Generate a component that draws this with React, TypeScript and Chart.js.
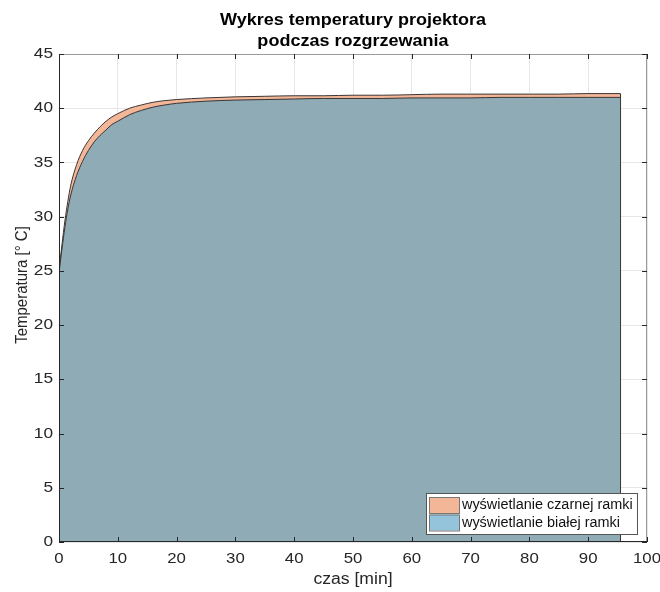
import React, { useEffect, useRef } from "react";
import { Chart, registerables } from "chart.js";

Chart.register(...registerables);

const titleLines = ["Wykres temperatury projektora", "podczas rozgrzewania"];
const xAxisLabel = "czas [min]";
const yAxisLabel = "Temperatura [° C]";
const seriesLabels = ["wyświetlanie czarnej ramki", "wyświetlanie białej ramki"];

const timeMin = [0, 0.5, 1, 1.5, 2, 3, 4, 5, 6, 7, 8, 9, 10, 12, 14, 16, 18, 20, 25, 30, 35, 40, 45, 50, 55, 60, 65, 70, 75, 80, 85, 90, 95.5];
const czarnaRamka = [25.0, 27.4, 29.6, 31.4, 32.9, 34.8, 36.1, 37.0, 37.7, 38.3, 38.8, 39.2, 39.5, 40.0, 40.3, 40.55, 40.7, 40.8, 40.95, 41.05, 41.1, 41.15, 41.15, 41.2, 41.2, 41.25, 41.3, 41.3, 41.3, 41.3, 41.3, 41.35, 41.35];
const bialaRamka = [24.8, 27.0, 29.0, 30.7, 32.0, 33.8, 35.1, 36.1, 36.9, 37.5, 38.0, 38.5, 38.8, 39.4, 39.8, 40.1, 40.3, 40.45, 40.65, 40.75, 40.8, 40.85, 40.9, 40.9, 40.9, 40.95, 40.95, 40.95, 41.0, 41.0, 41.0, 41.0, 41.0];

const xTicks = [0, 10, 20, 30, 40, 50, 60, 70, 80, 90, 100];
const yTicks = [0, 5, 10, 15, 20, 25, 30, 35, 40, 45];

const FONT = "'Liberation Sans', Arial, Helvetica, sans-serif";
const ORANGE = "#F3B798";
const BLUE_SWATCH = "#93C4DB";
const OVERLAP = "#8FABB6";
const EDGE = "#3a3535";
const AXIS = "#262626";

function stretchText(ctx: CanvasRenderingContext2D, text: string, x: number, y: number, sx: number) {
  ctx.save();
  ctx.translate(x, y);
  ctx.scale(sx, 1);
  ctx.fillText(text, 0, 0);
  ctx.restore();
}

const decor = {
  id: "decor",
  afterDatasetsDraw(chart: any) {
    const { ctx, chartArea: a, scales } = chart;
    const xs = scales.x;
    const ys = scales.y;
    ctx.save();
    const lastI = timeMin.length - 1;
    const xe = xs.getPixelForValue(timeMin[lastI]);
    ctx.strokeStyle = EDGE;
    ctx.lineWidth = 1;
    ctx.beginPath();
    ctx.moveTo(xe, ys.getPixelForValue(czarnaRamka[lastI]));
    ctx.lineTo(xe, ys.getPixelForValue(0));
    ctx.stroke();

    ctx.strokeStyle = "#9a9a9a";
    ctx.beginPath();
    ctx.moveTo(a.left, a.top + 0.5);
    ctx.lineTo(a.right - 0.5, a.top + 0.5);
    ctx.lineTo(a.right - 0.5, a.bottom);
    ctx.stroke();
    ctx.strokeStyle = AXIS;
    ctx.beginPath();
    ctx.moveTo(a.left + 0.5, a.top);
    ctx.lineTo(a.left + 0.5, a.bottom - 0.5);
    ctx.lineTo(a.right, a.bottom - 0.5);
    ctx.stroke();

    const tl = 5;
    ctx.strokeStyle = AXIS;
    ctx.lineWidth = 1;
    ctx.beginPath();
    xTicks.forEach((t) => {
      const px = Math.round(xs.getPixelForValue(t)) + 0.5;
      ctx.moveTo(px, a.bottom);
      ctx.lineTo(px, a.bottom - tl);
      ctx.moveTo(px, a.top);
      ctx.lineTo(px, a.top + tl);
    });
    yTicks.forEach((t) => {
      const py = Math.round(ys.getPixelForValue(t)) + 0.5;
      ctx.moveTo(a.left, py);
      ctx.lineTo(a.left + tl, py);
      ctx.moveTo(a.right, py);
      ctx.lineTo(a.right - tl, py);
    });
    ctx.stroke();

    // tick labels
    ctx.fillStyle = AXIS;
    ctx.font = `15px ${FONT}`;
    ctx.textBaseline = "middle";
    ctx.textAlign = "center";
    xTicks.forEach((t) => {
      stretchText(ctx, String(t), xs.getPixelForValue(t), a.bottom + 17, 1.12);
    });
    ctx.textAlign = "right";
    yTicks.forEach((t) => {
      stretchText(ctx, String(t), a.left - 6, ys.getPixelForValue(t), 1.15);
    });

    // legend
    const lx = 426, ly = 493, lw = 211, lh = 41;
    ctx.fillStyle = "#ffffff";
    ctx.fillRect(lx, ly, lw, lh);
    ctx.strokeStyle = "#555";
    ctx.lineWidth = 1;
    ctx.strokeRect(lx + 0.5, ly + 0.5, lw, lh);
    const sw = [ORANGE, BLUE_SWATCH];
    ctx.font = `14px ${FONT}`;
    ctx.textBaseline = "middle";
    ctx.textAlign = "left";
    seriesLabels.forEach((lab, i) => {
      const sy = ly + 4 + i * 17.5;
      ctx.fillStyle = sw[i];
      ctx.fillRect(lx + 3.5, sy, 30, 16);
      ctx.strokeStyle = "#777";
      ctx.strokeRect(lx + 3.5, sy + 0.5, 30, 16);
      ctx.fillStyle = "#111";
      stretchText(ctx, lab, lx + 36, sy + 8.5, 1.03);
    });
    ctx.restore();
  },
  afterDraw(chart: any) {
    const { ctx, chartArea: a } = chart;
    ctx.save();
    const cx = (a.left + a.right) / 2;
    ctx.fillStyle = "#000";
    ctx.textAlign = "center";
    ctx.textBaseline = "middle";
    ctx.font = `bold 17px ${FONT}`;
    stretchText(ctx, titleLines[0], cx, 20, 1.06);
    stretchText(ctx, titleLines[1], cx, 41, 1.06);
    ctx.font = `16px ${FONT}`;
    ctx.fillStyle = AXIS;
    stretchText(ctx, xAxisLabel, cx, 580, 1.1);
    ctx.translate(22, 285);
    ctx.rotate(-Math.PI / 2);
    ctx.scale(1, 1.15);
    ctx.font = `15px ${FONT}`;
    ctx.fillText(yAxisLabel, 0, 0);
    ctx.restore();
  },
};

export default function App() {
  const ref = useRef<HTMLCanvasElement | null>(null);
  useEffect(() => {
    document.body.style.margin = "0";
    const canvas = ref.current!;
    const chart = new Chart(canvas, {
      type: "line",
      data: {
        datasets: [
          {
            label: seriesLabels[0],
            data: timeMin.map((t, i) => ({ x: t, y: czarnaRamka[i] })),
            borderColor: EDGE,
            borderWidth: 1,
            backgroundColor: ORANGE,
            fill: "origin",
            pointRadius: 0,
            cubicInterpolationMode: "monotone",
            order: 2,
          },
          {
            label: seriesLabels[1],
            data: timeMin.map((t, i) => ({ x: t, y: bialaRamka[i] })),
            borderColor: EDGE,
            borderWidth: 1,
            backgroundColor: OVERLAP,
            fill: "origin",
            pointRadius: 0,
            cubicInterpolationMode: "monotone",
            order: 1,
          },
        ],
      },
      options: {
        responsive: false,
        animation: false,
        layout: { padding: { left: 0, right: 13, top: 54, bottom: 0 } },
        plugins: { legend: { display: false }, title: { display: false }, tooltip: { enabled: false } },
        scales: {
          x: {
            type: "linear",
            min: 0,
            max: 100,
            afterFit: (s: any) => { s.height = 50; },
            afterBuildTicks: (s: any) => { s.ticks = xTicks.map((v) => ({ value: v })); },
            grid: { color: "#e6e6e6", drawTicks: false },
            border: { display: false },
            ticks: { display: false },
          },
          y: {
            type: "linear",
            min: 0,
            max: 45,
            afterFit: (s: any) => { s.width = 59; },
            afterBuildTicks: (s: any) => { s.ticks = yTicks.map((v) => ({ value: v })); },
            grid: { color: "#e6e6e6", drawTicks: false },
            border: { display: false },
            ticks: { display: false },
          },
        },
      },
      plugins: [decor],
    } as any);
    return () => chart.destroy();
  }, []);
  return (
    <div style={{ position: "absolute", left: 0, top: 0, width: 660, height: 592, background: "#fff" }}>
      <canvas ref={ref} width={660} height={592} style={{ display: "block" }} />
    </div>
  );
}
